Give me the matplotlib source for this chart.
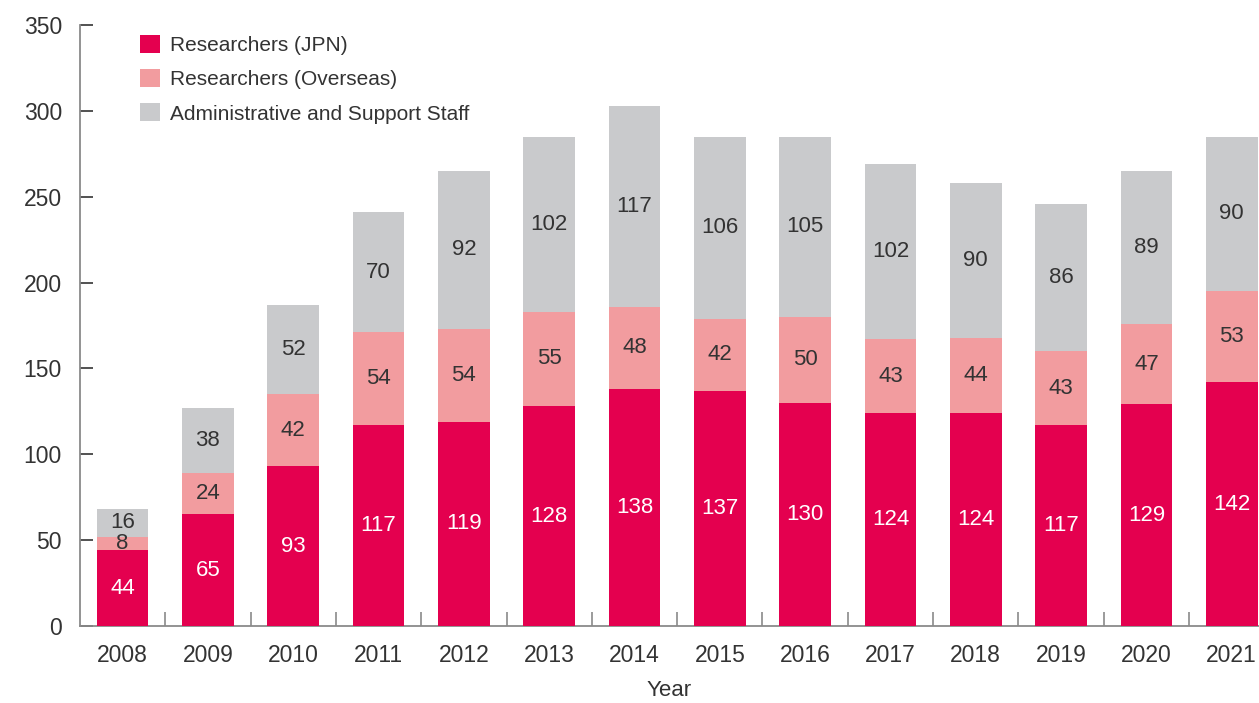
import matplotlib.pyplot as plt
import numpy as np
from matplotlib.patches import Patch

years = ['2008', '2009', '2010', '2011', '2012', '2013', '2014',
         '2015', '2016', '2017', '2018', '2019', '2020', '2021']
researchers_jpn = [44, 65, 93, 117, 119, 128, 138, 137, 130, 124, 124, 117, 129, 142]
researchers_overseas = [8, 24, 42, 54, 54, 55, 48, 42, 50, 43, 44, 43, 47, 53]
admin_staff = [16, 38, 52, 70, 92, 102, 117, 106, 105, 102, 90, 86, 89, 90]

series_labels = ['Researchers (JPN)', 'Researchers (Overseas)',
                 'Administrative and Support Staff']
colors = ['#e4004f', '#f29c9f', '#c9cacc']
text_dark = '#333333'

plt.rcParams['font.family'] = ['Liberation Sans', 'DejaVu Sans']
plt.rcParams['font.size'] = 16

fig = plt.figure(figsize=(12.59, 7.03), dpi=100)
ax = fig.add_axes([80 / 1259, 77 / 703, 1179 / 1259, 601 / 703])

x = np.arange(len(years))
width = 0.605
bottom = np.zeros(len(years))
for values, color, label in zip([researchers_jpn, researchers_overseas, admin_staff],
                                colors, series_labels):
    values = np.array(values)
    ax.bar(x, values, width, bottom=bottom, color=color, label=label, zorder=3)
    txt_color = 'white' if color == colors[0] else text_dark
    for xi, b, v in zip(x, bottom, values):
        ax.text(xi, b + v / 2, str(v), ha='center', va='center',
                color=txt_color, fontsize=16, zorder=4)
    bottom += values

ax.set_xlim(-0.5, 13.32)
ax.set_ylim(0, 350)
ax.set_yticks(range(0, 351, 50))
ax.set_xticks(x)
ax.set_xticklabels(years)
ax.set_xticks(x[:-1] + 0.5, minor=True)

for side in ['top', 'right']:
    ax.spines[side].set_visible(False)
for side in ['left', 'bottom']:
    ax.spines[side].set_color('#8a8a8a')
    ax.spines[side].set_linewidth(1.3)

ax.tick_params(axis='x', which='major', length=0, pad=13, colors=text_dark,
               labelsize=16.5)
ax.tick_params(axis='x', which='minor', direction='in', length=10,
               width=1.2, color='#8a8a8a')
ax.tick_params(axis='y', direction='in', length=9, width=1.2,
               color=text_dark, labelcolor=text_dark, pad=13, labelsize=16.5)

ax.set_xlabel('Year', color=text_dark, labelpad=9, fontsize=16)

handles = [Patch(facecolor=c, edgecolor='none') for c in colors]
ax.legend(handles, series_labels, loc='upper left', bbox_to_anchor=(0.035, 1.015),
          frameon=False, handlelength=0.95, handleheight=0.95, fontsize=15,
          handletextpad=0.5, labelspacing=0.68, labelcolor=text_dark)

fig.savefig('out.png', dpi=100)
